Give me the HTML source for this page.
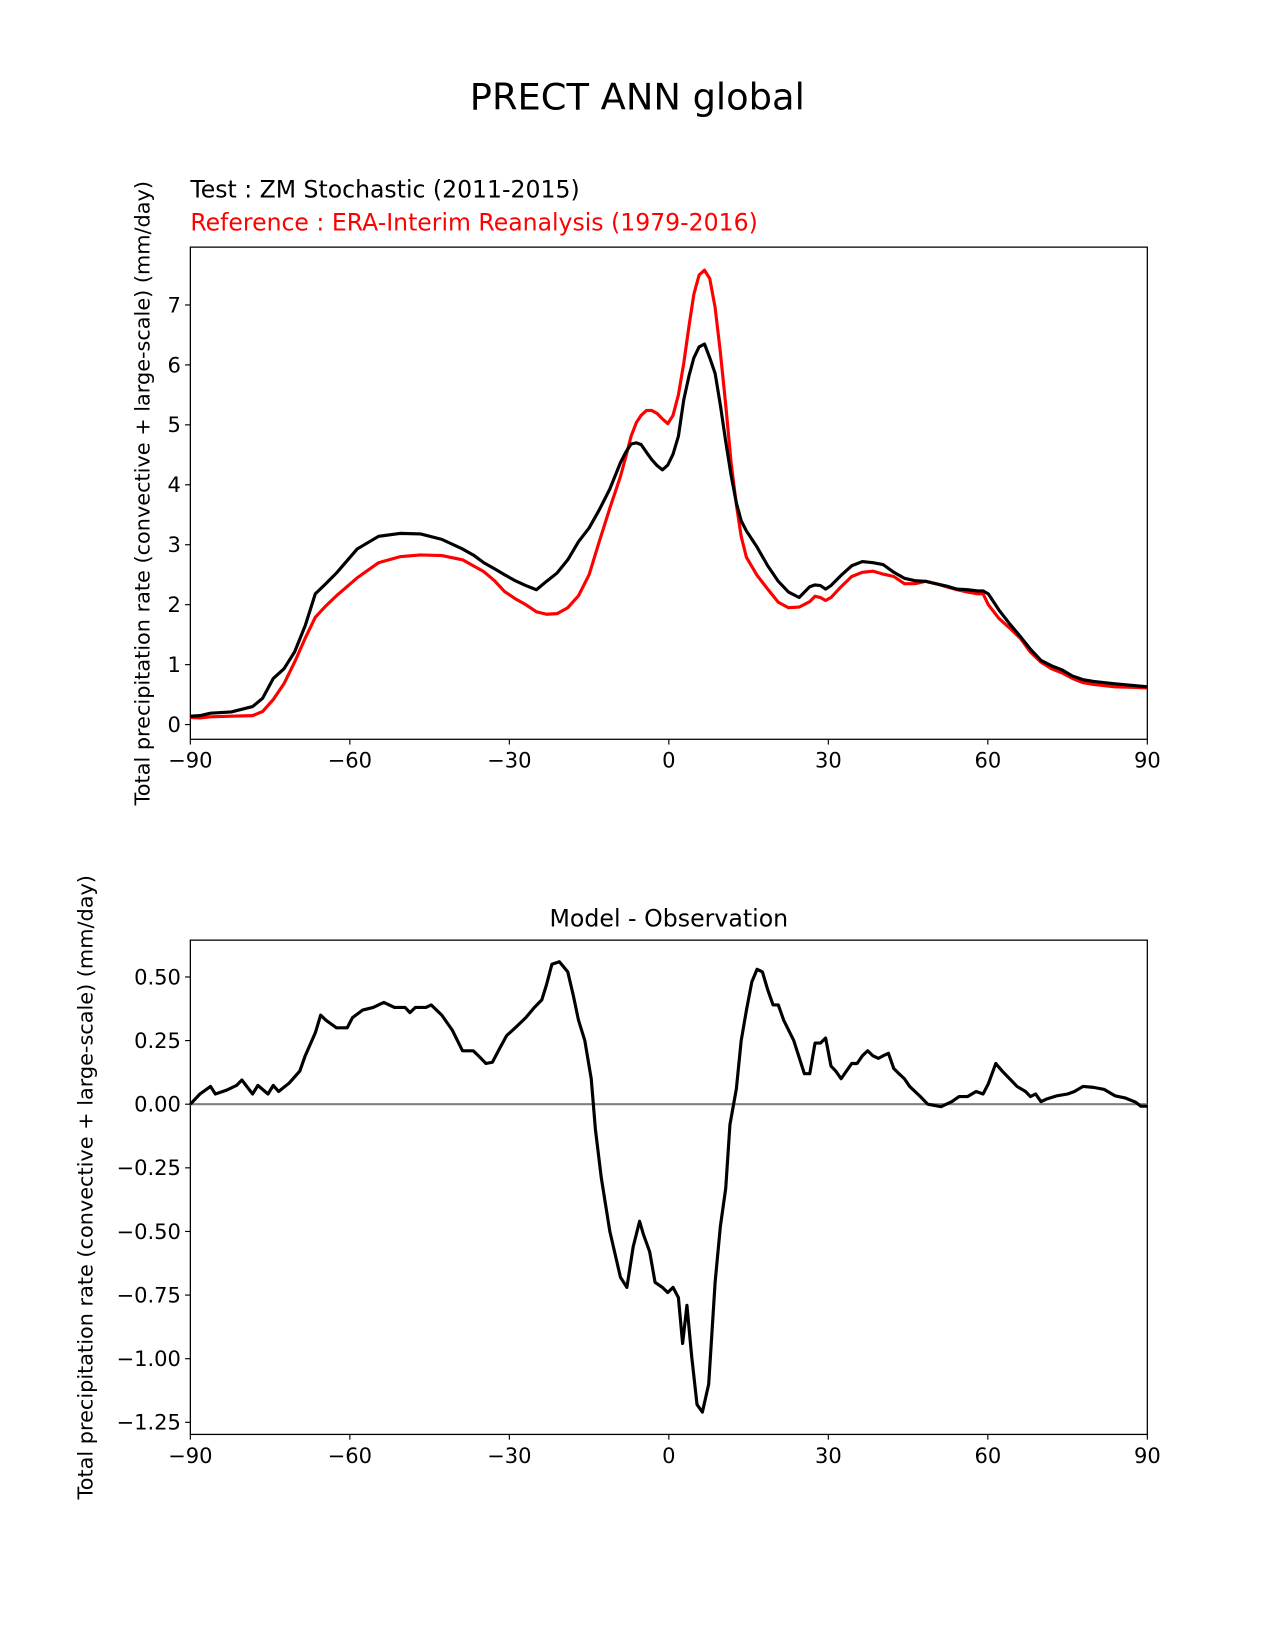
<!DOCTYPE html>
<html><head><meta charset="utf-8"><style>
html,body{margin:0;padding:0;background:#fff;}
svg{display:block;font-family:"DejaVu Sans","Liberation Sans",sans-serif;}
</style></head><body>
<svg id="fig" width="1275" height="1650" viewBox="0 0 1212.4 1569" xmlns="http://www.w3.org/2000/svg">
<text x="606" y="104" font-size="35" text-anchor="middle">PRECT ANN global</text>
<text x="181" y="188" font-size="22.4">Test : ZM Stochastic (2011-2015)</text>
<text x="181" y="219" font-size="22.4" fill="#ff0000">Reference : ERA-Interim Reanalysis (1979-2016)</text>
<text x="636" y="881" font-size="22.5" text-anchor="middle">Model - Observation</text>
<g id="top"></g>
<g id="bot"></g>
</svg>
<script>
const lats = [-90,-88.2,-86.2,-82.3,-78.3,-76.4,-74.4,-72.4,-70.4,-68.4,-66.5,-64.5,-62.5,-58.6,-54.6,-50.6,-46.7,-42.7,-38.8,-36.8,-34.8,-32.8,-30.9,-28.9,-26.9,-24.9,-23,-21,-19,-17,-15,-13.1,-11.1,-9.1,-8.1,-7.1,-6.1,-5.2,-4.2,-3.2,-2.2,-1.2,-0.2,0.8,1.8,2.8,3.8,4.7,5.7,6.7,7.7,8.7,9.7,10.7,11.7,12.7,13.6,14.6,16.6,18.6,20.6,22.5,24.5,26.5,27.5,28.5,29.5,30.5,32.4,34.4,36.4,38.4,40.3,42.3,44.3,46.3,48.3,50.2,52.2,54.2,56.2,58.1,59.1,60.1,62.1,64.1,66.1,68,70,72,74,75.9,77.9,79.9,83.9,87.8,90];
const testVals = [0.14,0.15,0.19,0.21,0.3,0.44,0.77,0.93,1.21,1.65,2.18,2.35,2.53,2.93,3.14,3.19,3.18,3.09,2.93,2.83,2.7,2.6,2.5,2.4,2.32,2.25,2.39,2.53,2.75,3.05,3.28,3.58,3.93,4.37,4.54,4.68,4.7,4.67,4.54,4.42,4.32,4.25,4.33,4.51,4.81,5.42,5.82,6.12,6.3,6.35,6.12,5.86,5.33,4.72,4.16,3.7,3.4,3.23,2.96,2.65,2.39,2.21,2.12,2.3,2.33,2.32,2.26,2.32,2.49,2.65,2.72,2.7,2.67,2.54,2.44,2.4,2.39,2.35,2.31,2.26,2.25,2.23,2.23,2.18,1.91,1.68,1.47,1.26,1.07,0.98,0.91,0.81,0.75,0.72,0.68,0.65,0.63];
const refVals = [0.12,0.11,0.13,0.14,0.15,0.22,0.42,0.68,1.04,1.44,1.79,1.98,2.15,2.45,2.7,2.8,2.83,2.82,2.75,2.65,2.55,2.4,2.22,2.1,2.0,1.88,1.84,1.85,1.95,2.15,2.5,3.05,3.61,4.14,4.46,4.81,5.04,5.16,5.24,5.24,5.19,5.1,5.02,5.16,5.5,6.03,6.65,7.18,7.5,7.58,7.44,6.96,6.21,5.33,4.37,3.67,3.14,2.79,2.49,2.26,2.04,1.95,1.96,2.05,2.14,2.12,2.07,2.12,2.3,2.47,2.54,2.56,2.51,2.47,2.35,2.35,2.39,2.35,2.3,2.25,2.21,2.18,2.18,2.0,1.77,1.61,1.44,1.21,1.04,0.93,0.86,0.77,0.7,0.67,0.63,0.62,0.61];
const diffLats = [-90,-88.2,-86.2,-85.3,-83.3,-81.3,-80.3,-78.3,-77.3,-75.4,-74.4,-73.4,-71.4,-69.4,-68.4,-66.5,-65.5,-64.5,-62.5,-60.5,-59.5,-57.6,-55.6,-53.6,-51.6,-49.6,-48.7,-47.7,-45.7,-44.7,-42.7,-40.7,-38.8,-36.8,-35.8,-34.4,-33.2,-31.8,-30.5,-28.9,-26.9,-25.3,-23.9,-23,-22,-20.6,-19,-18,-17,-15.8,-14.6,-13.8,-12.7,-11.1,-9.1,-7.9,-6.7,-5.5,-4.8,-3.6,-2.6,-1.2,-0.2,0.8,1.8,2.6,3.4,4.3,5.3,6.3,7.5,8.7,9.7,10.7,11.5,12.7,13.6,14.6,15.6,16.6,17.6,18.6,19.6,20.6,21.6,23.5,25.5,26.5,27.5,28.5,29.5,30.5,31.4,32.4,34.4,35.4,36.4,37.4,38.4,39.4,40.3,41.3,42.3,43.3,44.3,45.3,47.3,48.7,51.2,53.2,54.6,56.2,57.8,59.1,60.1,61.5,62.7,64.1,65.5,67.1,68,69,70,71,73,75,76.3,77.9,79.9,81.9,83.9,85.8,87.8,88.8,90];
const diffVals = [0,0.04,0.07,0.04,0.054,0.074,0.095,0.04,0.074,0.04,0.074,0.05,0.083,0.13,0.19,0.28,0.35,0.33,0.3,0.3,0.34,0.37,0.38,0.4,0.38,0.38,0.36,0.38,0.38,0.39,0.35,0.29,0.21,0.21,0.19,0.16,0.165,0.22,0.27,0.3,0.34,0.38,0.41,0.47,0.55,0.56,0.52,0.43,0.33,0.25,0.1,-0.1,-0.29,-0.5,-0.68,-0.72,-0.56,-0.46,-0.51,-0.58,-0.7,-0.72,-0.74,-0.72,-0.76,-0.94,-0.79,-0.99,-1.18,-1.21,-1.1,-0.7,-0.48,-0.33,-0.08,0.06,0.25,0.37,0.48,0.53,0.52,0.45,0.39,0.39,0.33,0.25,0.12,0.12,0.24,0.24,0.26,0.15,0.13,0.1,0.16,0.16,0.19,0.21,0.19,0.18,0.19,0.2,0.14,0.12,0.1,0.07,0.03,0,-0.01,0.01,0.03,0.03,0.05,0.04,0.08,0.16,0.13,0.1,0.07,0.05,0.03,0.04,0.01,0.02,0.033,0.04,0.05,0.07,0.066,0.058,0.033,0.025,0.008,-0.008,-0.008];
const xTicks = [-90,-60,-30,0,30,60,90];
const topYTicks = [0,1,2,3,4,5,6,7];
const botYTicks = [0.5,0.25,0,-0.25,-0.5,-0.75,-1,-1.25];
const botYLabels = ["0.50","0.25","0.00","\u22120.25","\u22120.50","\u22120.75","\u22121.00","\u22121.25"];

const NS="http://www.w3.org/2000/svg";
function mk(parent,tag,attrs,text){const e=document.createElementNS(NS,tag);for(const k in attrs)e.setAttribute(k,attrs[k]);if(text!==undefined)e.textContent=text;parent.appendChild(e);return e;}
const X0=181,X1=1091;
function xs(lat){return X0+(lat+90)/180*(X1-X0);}
function fmt(v){return v<0?"\u2212"+Math.abs(v):String(v);}

function panel(g,top,bot,y0,ppu,yTicks,yLabels,ylabX){
  const ys=v=>y0-v*ppu;
  mk(g,'rect',{x:X0,y:top,width:X1-X0,height:bot-top,fill:'none',stroke:'#000','stroke-width':1.2});
  xTicks.forEach(t=>{
    const l=mk(g,'line',{x1:xs(t),x2:xs(t),y1:bot,y2:bot+5,stroke:'#000','stroke-width':1.1});
    
    
    const tx=mk(g,'text',{x:xs(t),y:bot+27,'font-size':20,'text-anchor':'middle'},fmt(t));
    
    
  });
  yTicks.forEach((t,i)=>{
    const l=mk(g,'line',{x1:X0-5,x2:X0,y1:ys(t),y2:ys(t),stroke:'#000','stroke-width':1.1});
    
    
    const tx=mk(g,'text',{x:X0-9,y:ys(t)+7,'font-size':20,'text-anchor':'end'},yLabels?yLabels[i]:fmt(t));
    
    
  });
  const cy=(top+bot)/2;
  const yl=mk(g,'text',{x:ylabX,y:cy,'font-size':19.8,'text-anchor':'middle',transform:`rotate(-90 ${ylabX} ${cy})`},'Total precipitation rate (convective + large-scale) (mm/day)');
  
  
  return ys;
}
function line(g,la,va,ys,color,name){
  const d=la.map((l,i)=>(i?'L':'M')+xs(l).toFixed(1)+' '+ys(va[i]).toFixed(1)).join(' ');
  const p=mk(g,'path',{d:d,fill:'none',stroke:color,'stroke-width':3,'stroke-linejoin':'round'});
  
  
}
const gt=document.getElementById('top');
const yt=panel(gt,235,703,689,57,topYTicks,null,142);
line(gt,lats,refVals,yt,'#ff0000','reference-line');
line(gt,lats,testVals,yt,'#000000','test-line');

const gb=document.getElementById('bot');
const yb=panel(gb,894,1364,1050,242,botYTicks,botYLabels,88);
const z=mk(gb,'line',{x1:X0,x2:X1,y1:yb(0),y2:yb(0),stroke:'#808080','stroke-width':2});


line(gb,diffLats,diffVals,yb,'#000000','difference-line');
</script>
</body></html>
